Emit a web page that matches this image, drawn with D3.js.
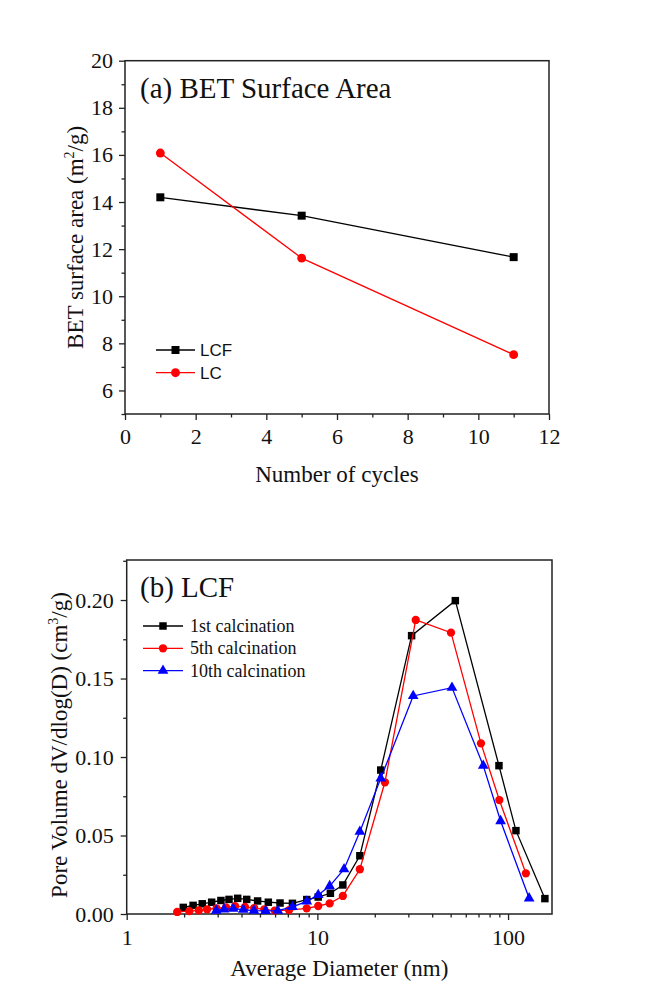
<!DOCTYPE html>
<html>
<head>
<meta charset="utf-8">
<script src="https://cdn.jsdelivr.net/npm/d3@7"></script>
<style>
  html, body { margin: 0; padding: 0; background: #fff; }
  svg { display: block; }
  .serif { font-family: "Liberation Serif", "Times New Roman", serif; }
  .sans { font-family: "Liberation Sans", Arial, sans-serif; }
</style>
</head>
<body>
<svg id="fig" width="645" height="989"></svg>
<script>
// ---- Panel (a): BET surface area vs number of cycles ----
const cycles = [1, 5, 11];
const lcfArea = [14.2, 13.42, 11.66];
const lcArea = [16.08, 11.62, 7.52];
const cycleTicks = [0, 2, 4, 6, 8, 10, 12];
const areaTicks = [6, 8, 10, 12, 14, 16, 18, 20];

// ---- Panel (b): BJH pore size distribution of LCF ----
const diam1st = [1.98, 2.23, 2.49, 2.79, 3.12, 3.44, 3.82, 4.26, 4.86, 5.53, 6.37, 7.4, 8.8, 10.1, 11.7, 13.6, 16.7, 21.5, 31.2, 52.9, 89.6, 110, 156];
const pv1st = [0.0042, 0.0055, 0.0065, 0.0075, 0.0086, 0.0093, 0.0100, 0.0093, 0.0083, 0.0075, 0.0070, 0.0068, 0.0092, 0.0108, 0.0132, 0.0185, 0.0371, 0.0917, 0.1773, 0.1996, 0.0945, 0.0531, 0.0098];
const diam5th = [1.84, 2.13, 2.39, 2.64, 2.96, 3.32, 3.70, 4.17, 4.66, 5.27, 5.98, 7.1, 8.79, 10.1, 11.6, 13.6, 16.7, 22.6, 32.8, 50.2, 72.1, 90, 124];
const pv5th = [0.0013, 0.0018, 0.0023, 0.0030, 0.0036, 0.0042, 0.0050, 0.0045, 0.0038, 0.0030, 0.0022, 0.0025, 0.0036, 0.0051, 0.0068, 0.0115, 0.0285, 0.0839, 0.1873, 0.1792, 0.1087, 0.0726, 0.0259];
const diam10th = [2.95, 3.24, 3.62, 4.09, 4.65, 5.35, 6.2, 7.4, 8.8, 10.1, 11.6, 13.8, 16.7, 21.5, 31.8, 50.8, 74.1, 91.4, 129];
const pv10th = [0.0022, 0.0030, 0.0034, 0.0027, 0.0022, 0.0020, 0.0021, 0.0045, 0.0080, 0.0121, 0.0178, 0.0285, 0.0524, 0.0864, 0.1389, 0.1442, 0.0945, 0.0592, 0.0100];
const pvTicks = [0, 0.05, 0.10, 0.15, 0.20];
const diamTicks = [1, 10, 100];

const svg = d3.select("#fig");
const AXIS = "#222";
const TICK_FONT = 22;

function symbolPath(type, size) {
  return d3.symbol().type(type).size(size)();
}

function frame(g, x0, x1, y0, y1) {
  g.append("rect")
    .attr("x", x0).attr("y", y0)
    .attr("width", x1 - x0).attr("height", y1 - y0)
    .attr("fill", "none").attr("stroke", AXIS).attr("stroke-width", 1.5);
}

function styleAxis(sel) {
  sel.select(".domain").remove();
  sel.selectAll(".tick line").attr("stroke", AXIS).attr("stroke-width", 1.3);
  sel.selectAll(".tick text")
    .attr("fill", "#111")
    .attr("class", "serif")
    .style("font-size", TICK_FONT + "px");
}

function series(g, x, y, xs, ys, color, shape, size) {
  const pts = xs.map((d, i) => [x(d), y(ys[i])]);
  g.append("path")
    .attr("d", d3.line()(pts))
    .attr("fill", "none").attr("stroke", color).attr("stroke-width", 1.3);
  g.selectAll(null).data(pts).enter().append("path")
    .attr("transform", d => `translate(${d[0]},${d[1]})`)
    .attr("d", symbolPath(shape, size))
    .attr("fill", color);
}

// =================== Panel (a) ===================
{
  const L = 125, R = 549, T = 60.7, B = 414;
  const x = d3.scaleLinear().domain([0, 12]).range([L, R]);
  const y = d3.scaleLinear().domain([5, 20]).range([B, T]);
  const g = svg.append("g");

  // minor ticks
  const xMinor = d3.range(1, 12, 2);
  const yMinor = d3.range(5, 20, 2);
  g.append("g").attr("transform", `translate(0,${B})`)
    .call(d3.axisBottom(x).tickValues(xMinor).tickSize(3.5).tickFormat(""))
    .call(styleAxis);
  g.append("g").attr("transform", `translate(${L},0)`)
    .call(d3.axisLeft(y).tickValues(yMinor).tickSize(3.5).tickFormat(""))
    .call(styleAxis);

  g.append("g").attr("transform", `translate(0,${B})`)
    .call(d3.axisBottom(x).tickValues(cycleTicks).tickSize(6).tickPadding(8).tickFormat(d3.format("d")))
    .call(styleAxis);
  g.append("g").attr("transform", `translate(${L},0)`)
    .call(d3.axisLeft(y).tickValues(areaTicks).tickSize(6).tickPadding(6).tickFormat(d3.format("d")))
    .call(styleAxis);

  frame(g, L, R, T, B);

  series(g, x, y, cycles, lcfArea, "#000", d3.symbolSquare, 64);
  series(g, x, y, cycles, lcArea, "#ff0000", d3.symbolCircle, 62);

  g.append("text").attr("class", "serif")
    .attr("x", 140).attr("y", 98)
    .style("font-size", "29px").attr("fill", "#111")
    .text("(a) BET Surface Area");

  g.append("text").attr("class", "serif")
    .attr("x", (L + R) / 2).attr("y", 482)
    .attr("text-anchor", "middle")
    .style("font-size", "23px").attr("fill", "#111")
    .text("Number of cycles");

  const yl = g.append("text").attr("class", "serif")
    .attr("transform", `translate(83,${(T + B) / 2}) rotate(-90)`)
    .attr("text-anchor", "middle")
    .style("font-size", "23px").attr("fill", "#111");
  yl.append("tspan").text("BET surface area (m");
  yl.append("tspan").attr("dy", -9).style("font-size", "14px").text("2");
  yl.append("tspan").attr("dy", 9).text("/g)");

  // legend
  const leg = [
    { name: "LCF", color: "#000", shape: d3.symbolSquare, size: 64, ly: 350 },
    { name: "LC", color: "#ff0000", shape: d3.symbolCircle, size: 62, ly: 372.7 }
  ];
  leg.forEach(d => {
    g.append("line").attr("x1", 156).attr("x2", 195)
      .attr("y1", d.ly).attr("y2", d.ly)
      .attr("stroke", d.color).attr("stroke-width", 1.3);
    g.append("path").attr("transform", `translate(175.5,${d.ly})`)
      .attr("d", symbolPath(d.shape, d.size)).attr("fill", d.color);
    g.append("text").attr("class", "sans")
      .attr("x", 200).attr("y", d.ly + 6)
      .style("font-size", "17px").attr("fill", "#111")
      .text(d.name);
  });
}

// =================== Panel (b) ===================
{
  const L = 126.7, R = 552, T = 560, B = 914;
  const x = d3.scaleLog().domain([1, 170]).range([L, R]);
  const y = d3.scaleLinear().domain([0, 0.2255]).range([B, T]);
  const g = svg.append("g");

  const xMinor = [];
  [1, 10, 100].forEach(dec => {
    for (let k = 2; k <= 9; k++) if (dec * k <= 170) xMinor.push(dec * k);
  });
  const yMinor = [0.025, 0.075, 0.125, 0.175, 0.225];

  g.append("g").attr("transform", `translate(0,${B})`)
    .call(d3.axisBottom(x).tickValues(xMinor).tickSize(3.5).tickFormat(""))
    .call(styleAxis);
  g.append("g").attr("transform", `translate(${L},0)`)
    .call(d3.axisLeft(y).tickValues(yMinor).tickSize(3.5).tickFormat(""))
    .call(styleAxis);

  g.append("g").attr("transform", `translate(0,${B})`)
    .call(d3.axisBottom(x).tickValues(diamTicks).tickSize(6).tickPadding(9).tickFormat(d3.format("d")))
    .call(styleAxis);
  g.append("g").attr("transform", `translate(${L},0)`)
    .call(d3.axisLeft(y).tickValues(pvTicks).tickSize(6).tickPadding(7).tickFormat(d3.format(".2f")))
    .call(styleAxis);

  frame(g, L, R, T, B);

  series(g, x, y, diam1st, pv1st, "#000", d3.symbolSquare, 56);
  series(g, x, y, diam5th, pv5th, "#ff0000", d3.symbolCircle, 54);
  series(g, x, y, diam10th, pv10th, "#0000ff", d3.symbolTriangle, 50);

  g.append("text").attr("class", "serif")
    .attr("x", 140).attr("y", 597)
    .style("font-size", "29px").attr("fill", "#111")
    .text("(b) LCF");

  g.append("text").attr("class", "serif")
    .attr("x", (L + R) / 2).attr("y", 976)
    .attr("text-anchor", "middle")
    .style("font-size", "23px").attr("fill", "#111")
    .text("Average Diameter (nm)");

  const yl = g.append("text").attr("class", "serif")
    .attr("transform", `translate(67,${(T + B) / 2 + 8}) rotate(-90)`)
    .attr("text-anchor", "middle")
    .style("font-size", "23px").attr("fill", "#111");
  yl.append("tspan").text("Pore Volume dV/dlog(D) (cm");
  yl.append("tspan").attr("dy", -9).style("font-size", "14px").text("3");
  yl.append("tspan").attr("dy", 9).text("/g)");

  const leg = [
    { name: "1st calcination", color: "#000", shape: d3.symbolSquare, size: 56, ly: 626 },
    { name: "5th calcination", color: "#ff0000", shape: d3.symbolCircle, size: 54, ly: 648.3 },
    { name: "10th calcination", color: "#0000ff", shape: d3.symbolTriangle, size: 50, ly: 670.7 }
  ];
  leg.forEach(d => {
    g.append("line").attr("x1", 143).attr("x2", 183)
      .attr("y1", d.ly).attr("y2", d.ly)
      .attr("stroke", d.color).attr("stroke-width", 1.3);
    g.append("path").attr("transform", `translate(163,${d.ly})`)
      .attr("d", symbolPath(d.shape, d.size)).attr("fill", d.color);
    g.append("text").attr("class", "serif")
      .attr("x", 190).attr("y", d.ly + 6)
      .style("font-size", "18px").attr("fill", "#111")
      .text(d.name);
  });
}
</script>
</body>
</html>
